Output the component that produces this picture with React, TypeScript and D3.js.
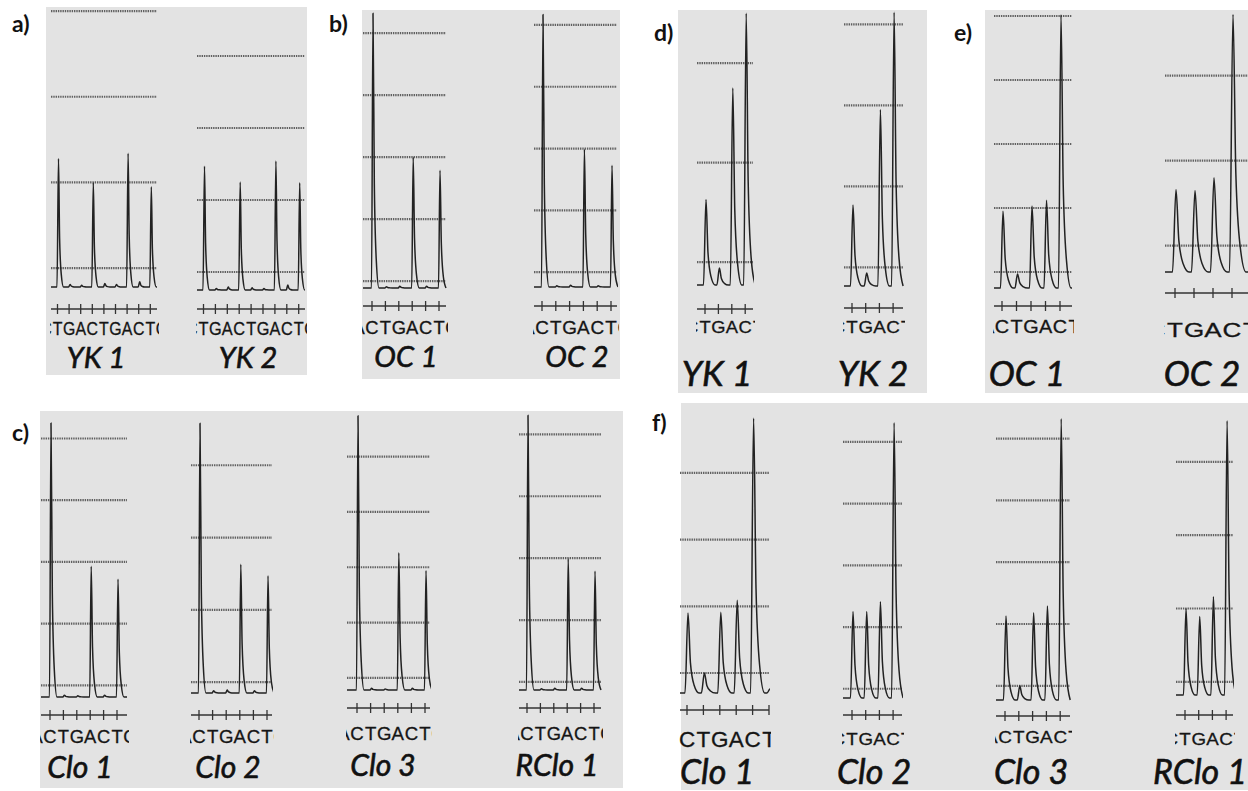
import React from 'react';
import * as d3 from 'd3';

// panel letters and the pyrograms in each panel, left to right
const panelIds = ['a)', 'b)', 'c)', 'd)', 'e)', 'f)'];
const traceNames = ['YK 1', 'YK 2', 'OC 1', 'OC 2', 'Clo 1', 'Clo 2', 'Clo 3', 'RClo 1',
  'YK 1', 'YK 2', 'OC 1', 'OC 2', 'Clo 1', 'Clo 2', 'Clo 3', 'RClo 1'];

// dispensation order under each trace; first and last letter are the clipped neighbours
const traceLetters = ['CTGACTGACTG', 'CTGACTGACTG', 'ACTGACTG', 'ACTGACTG',
  'ACTGACTG', 'ACTGACTG', 'ACTGACTG', 'ACTGACTG',
  'CTGACT', 'CTGACT', 'ACTGACT', 'CTGACT',
  'ACTGACTG', 'CTGACT', 'ACTGACT', 'CTGACT'];

// peak height at each dispensation, in gridline units above the trace baseline
const yk1a = [1.50, 0.03, 0.02, 1.22, 0.04, 0.03, 1.56, 0.06, 1.17];
const yk2a = [1.72, 0.02, 0.04, 1.50, 0.03, 0.02, 1.79, 0.07, 1.49];
const oc1b = [4.43, 0.02, 0.03, 2.11, 0.03, 1.90];
const oc2b = [4.41, 0.02, 0.03, 2.23, 0.02, 1.97];
const clo1c = [4.44, 0.03, 0.02, 2.12, 0.03, 1.91];
const clo2c = [3.73, 0.03, 0.04, 1.78, 0.03, 1.62];
const clo3c = [4.96, 0.03, 0.02, 2.48, 0.03, 2.16];
const rclo1c = [4.44, 0.02, 0.03, 2.12, 0.03, 1.92];
const yk1d = [0.86, 0.17, 1.98, 2.73];
const yk2d = [1.00, 0.16, 2.18, 3.38];
const oc1e = [1.20, 0.22, 1.28, 1.37, 4.27];
const oc2e = [0.97, 0.96, 1.11, 3.03];
const clo1f = [1.20, 0.30, 1.21, 1.39, 4.12, 0.06];
const clo2f = [1.40, 1.40, 1.56, 4.46];
const clo3f = [1.36, 0.23, 1.41, 1.52, 4.55];
const rclo1f = [1.18, 1.07, 1.34, 3.74];
const traceValues = [yk1a, yk2a, oc1b, oc2b, clo1c, clo2c, clo3c, rclo1c,
  yk1d, yk2d, oc1e, oc2e, clo1f, clo2f, clo3f, rclo1f];

// first gridline above the baseline, and how many gridlines
const gridOffset = [0.22, 0.25, 0.11, 0.24, 0.19, 0.15, 0.22, 0.13, 0.23, 0.23, 0.25, 0.31, 0.30, 0.15, 0.23, 0.18];
const gridCount = [4, 4, 5, 5, 5, 4, 5, 5, 3, 4, 5, 3, 4, 5, 5, 4];

// ---- layout (pixels) ----
const panelBoxes = [
  [46, 7, 307, 375], [362, 10, 620, 379], [40, 411, 623, 788],
  [678, 10, 927, 393], [985, 10, 1248, 393], [681, 403, 1248, 790],
];
const panelLabelPos = [[12, 32], [329, 32], [12, 441], [654, 41], [954, 41], [652, 431]];

const frames = [
  { x0: 51, x1: 157, baseY: 287, step: 85.7, t0: 57.5, dt: 11.6, axisY: 309, textY: 335, textSize: 18, lx: 96, ly: 368, ls: 29, rise: 1.5, tail: 5 },
  { x0: 197, x1: 305, baseY: 290, step: 72, t0: 203.5, dt: 11.9, axisY: 309, textY: 335, textSize: 18, lx: 248, ly: 368, ls: 29, rise: 1.5, tail: 5 },
  { x0: 363, x1: 446, baseY: 288, step: 62, t0: 372, dt: 13.4, axisY: 306, textY: 334, textSize: 18, lx: 406, ly: 367, ls: 29, rise: 1.5, tail: 6 },
  { x0: 534, x1: 617, baseY: 287, step: 61.8, t0: 542, dt: 13.8, axisY: 306, textY: 334, textSize: 18, lx: 577, ly: 367, ls: 29, rise: 1.5, tail: 6 },
  { x0: 41, x1: 127, baseY: 697, step: 61.7, t0: 50, dt: 13.4, axisY: 715, textY: 743, textSize: 18, lx: 80, ly: 778, ls: 30, rise: 1.5, tail: 6 },
  { x0: 191, x1: 272, baseY: 693, step: 72.3, t0: 199, dt: 13.6, axisY: 715, textY: 743, textSize: 18, lx: 228, ly: 778, ls: 30, rise: 1.5, tail: 6 },
  { x0: 347, x1: 430, baseY: 690, step: 55.3, t0: 357, dt: 13.6, axisY: 708, textY: 740, textSize: 18, lx: 383, ly: 776, ls: 30, rise: 1.5, tail: 6 },
  { x0: 519, x1: 601, baseY: 690, step: 61.9, t0: 527, dt: 13.4, axisY: 708, textY: 740, textSize: 18, lx: 557, ly: 776, ls: 30, rise: 1.5, tail: 6 },
  { x0: 697, x1: 753, baseY: 285, step: 99.5, t0: 705, dt: 13.4, axisY: 309, textY: 333, textSize: 17, lx: 717, ly: 386, ls: 35, rise: 2.5, tail: 9 },
  { x0: 844, x1: 903, baseY: 286, step: 81, t0: 852, dt: 13.7, axisY: 308, textY: 333, textSize: 17, lx: 873, ly: 386, ls: 35, rise: 2.5, tail: 9 },
  { x0: 994, x1: 1072, baseY: 288, step: 64, t0: 1002, dt: 14.5, axisY: 306, textY: 333, textSize: 18, lx: 1027, ly: 386, ls: 35, rise: 2.5, tail: 10 },
  { x0: 1165, x1: 1248, baseY: 272, step: 85, t0: 1175, dt: 19, axisY: 293, textY: 337, textSize: 21, lx: 1202, ly: 386, ls: 35, rise: 3.5, tail: 13 },
  { x0: 680, x1: 769, baseY: 693, step: 66.7, t0: 687, dt: 16.4, axisY: 710, textY: 747, textSize: 22, lx: 717, ly: 784, ls: 34, rise: 3, tail: 11 },
  { x0: 843, x1: 902, baseY: 698, step: 61.7, t0: 852, dt: 13.7, axisY: 715, textY: 745, textSize: 17, lx: 874, ly: 784, ls: 34, rise: 2.5, tail: 9 },
  { x0: 996, x1: 1070, baseY: 700, step: 61.8, t0: 1005, dt: 13.8, axisY: 716, textY: 743, textSize: 17, lx: 1031, ly: 784, ls: 34, rise: 2.5, tail: 9 },
  { x0: 1176, x1: 1233, baseY: 695, step: 73.3, t0: 1185, dt: 13.7, axisY: 715, textY: 745, textSize: 17, lx: 1200, ly: 784, ls: 34, rise: 2.5, tail: 9 },
];

const letterFont = '"Liberation Sans", Arial, sans-serif';
const labelFont = 'Lato, "Open Sans", sans-serif';

function Pyrogram({ i }: { i: number }) {
  const f = frames[i];
  const vals = traceValues[i];
  const letters = traceLetters[i];
  const x = d3.scaleLinear().domain([0, 1]).range([f.t0, f.t0 + f.dt]);
  const y = d3.scaleLinear().domain([0, 1]).range([f.baseY, f.baseY - f.step]);
  const grid = d3.range(gridCount[i]).map(k => gridOffset[i] + k);

  // each peak: steep rise, quick decay tail back to the baseline
  const pts: [number, number][] = [[f.x0, 0]];
  vals.forEach((v, k) => {
    const px = x(k) + 1;
    const shape: [number, number][] = [
      [px - f.rise, 0], [px, v], [px + f.tail * 0.22, v * 0.38],
      [px + f.tail * 0.55, v * 0.1], [px + f.tail, 0],
    ];
    shape.forEach(p => { if (p[0] > pts[pts.length - 1][0]) pts.push(p); });
  });
  if (f.x1 > pts[pts.length - 1][0]) pts.push([f.x1, 0]);

  const line = d3.line<[number, number]>()
    .x(d => d[0])
    .y(d => y(d[1]))
    .curve(d3.curveMonotoneX);

  const clipTrace = `trace-${i}`;
  const clipText = `text-${i}`;
  // letters are stretched or squeezed so that neighbours just touch
  const squeeze = f.dt / (f.textSize * 0.73);
  return (
    <g>
      <defs>
        <clipPath id={clipTrace}><rect x={f.x0 - 1} y={0} width={f.x1 - f.x0 + 2} height={800} /></clipPath>
        <clipPath id={clipText}><rect x={f.x0 - 1} y={f.axisY + 6} width={f.x1 - f.x0 + 3} height={60} /></clipPath>
      </defs>
      {grid.map(g => (
        <line key={g} x1={f.x0} x2={f.x1} y1={y(g)} y2={y(g)}
          stroke="#606060" strokeWidth={2.2} strokeDasharray="1.4,0.9" />
      ))}
      <path d={line(pts) || ''} fill="none" stroke="#222" strokeWidth={1.5}
        strokeLinejoin="round" clipPath={`url(#${clipTrace})`} />
      <line x1={f.x0} x2={f.x1} y1={f.axisY} y2={f.axisY} stroke="#333" strokeWidth={1.3} />
      {vals.map((_, k) => (
        <line key={k} x1={x(k)} x2={x(k)} y1={f.axisY - 5} y2={f.axisY + 5} stroke="#333" strokeWidth={1.3} />
      ))}
      <g clipPath={`url(#${clipText})`} fontFamily={letterFont} fontSize={f.textSize}
        fill="#151515" stroke="#151515" strokeWidth={0.3}>
        {letters.split('').map((c, j) => (
          <text key={j} transform={`translate(${x(j - 1)},${f.textY}) scale(${squeeze},1)`}
            textAnchor="middle">{c}</text>
        ))}
      </g>
      <text x={f.lx} y={f.ly} textAnchor="middle" fontFamily={labelFont} fontStyle="italic"
        fontSize={f.ls} fill="#111" stroke="#111" strokeWidth={0.6}>{traceNames[i]}</text>
    </g>
  );
}

export default function App() {
  const width = 1248;
  const height = 791;
  return (
    <svg width={width} height={height} viewBox={`0 0 ${width} ${height}`}
      style={{ position: 'absolute', left: 0, top: 0, background: '#fff', display: 'block' }}>
      {panelBoxes.map((b, k) => (
        <rect key={k} x={b[0]} y={b[1]} width={b[2] - b[0]} height={b[3] - b[1]} fill="#e3e3e3" />
      ))}
      {panelIds.map((p, k) => (
        <text key={p} x={panelLabelPos[k][0]} y={panelLabelPos[k][1]} fontFamily={labelFont}
          fontWeight="bold" fontSize={23} fill="#111">{p}</text>
      ))}
      {traceNames.map((_, i) => <Pyrogram key={i} i={i} />)}
    </svg>
  );
}
